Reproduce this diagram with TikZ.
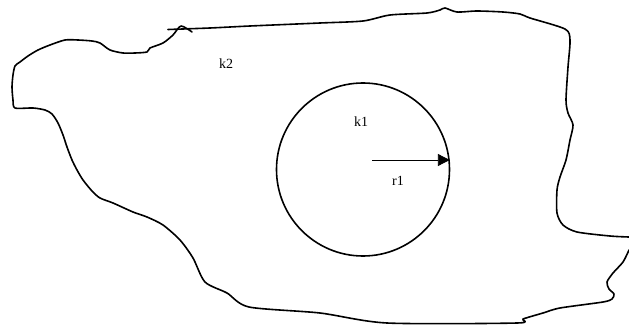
\documentclass[tikz,border=0pt]{standalone}
\usepackage{fontspec}
\setmainfont{Liberation Serif}
\usetikzlibrary{arrows.meta}
\begin{document}
\begin{tikzpicture}[x=1pt,y=-1pt,
  outline/.style={line width=1.6pt,line join=round,line cap=round},
  lbl/.style={font=\fontsize{14}{16}\selectfont,inner sep=0pt},
  radius arrow/.style={line width=0.9pt,-{Triangle[length=12pt,width=12pt]}}]
\useasboundingbox (0,0) rectangle (629,326);
% region k2 outline
\draw[outline] plot[smooth,tension=0.45] coordinates {
 (192,32) (181,26) (173,35) (163,43) (150,48) (147,52) (135,53) (123,53)
 (110,50) (100,43) (92,41) (78,40) (65,40) (50,45) (38,50) (28,56) (20,62)
 (15,66) (13,75) (12,87) (13,100) (15,108) (33,108) (45,110) (52,114) (58,123)
 (63,135) (67,147) (72,160) (77,170) (83,180) (92,191) (100,198) (113,203)
 (133,212) (147,217) (163,225) (180,240) (193,258) (205,282) (227,293)
 (249,307) (320,313) (387,323) (517,323) (523,319) (543,313) (560,308)
 (603,302) (612,299) (614,294) (609,289) (607,282) (613,273) (623,262) (629,250)};
\draw[outline] plot[smooth,tension=0.45] coordinates {
 (629,237) (610,236) (577,232) (563,225) (557,213) (557,190) (560,177)
 (566,160) (570,140) (573,125) (568,113) (566,100) (568,67) (570,40)
 (565,29) (530,18) (520,14) (503,12) (477,11) (457,12) (445,8) (440,10)
 (427,13) (390,15) (363,21) (320,23) (250,26) (210,28) (168,29.5)};
% circle k1
\node[circle,draw,line width=1.6pt,minimum size=173pt,inner sep=0pt] (c) at (363,169.5) {};
\coordinate (rs) at (372,160);
\draw[radius arrow] (rs) -- (c.6.3 |- rs);
\node[lbl] (k2) at (226,64) {k2};
\node[lbl] (k1) at (361,122) {k1};
\node[lbl] (r1) at (398,181) {r1};
\end{tikzpicture}
\end{document}
